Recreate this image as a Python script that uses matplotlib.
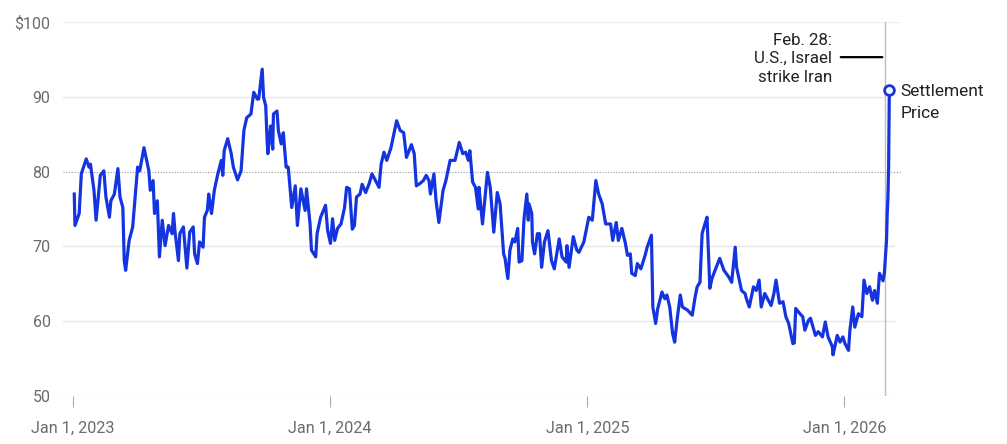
import matplotlib
matplotlib.use("Agg")
import matplotlib.pyplot as plt
import pandas as pd

plt.rcParams['font.family'] = ['Roboto', 'DejaVu Sans']

# prix (dates de cotation, $/baril)
dates = [
    "2023-01-03", "2023-01-04", "2023-01-10", "2023-01-13", "2023-01-20", "2023-01-24", "2023-01-26",
    "2023-01-31", "2023-02-03", "2023-02-09", "2023-02-14", "2023-02-17", "2023-02-22", "2023-02-24",
    "2023-03-01", "2023-03-06", "2023-03-09", "2023-03-13", "2023-03-15", "2023-03-17", "2023-03-22",
    "2023-03-27", "2023-04-03", "2023-04-06", "2023-04-12", "2023-04-19", "2023-04-21", "2023-04-25",
    "2023-04-27", "2023-05-01", "2023-05-04", "2023-05-08", "2023-05-12", "2023-05-17", "2023-05-22",
    "2023-05-24", "2023-05-26", "2023-05-31", "2023-06-02", "2023-06-07", "2023-06-12", "2023-06-16",
    "2023-06-21", "2023-06-23", "2023-06-27", "2023-06-30", "2023-07-05", "2023-07-07", "2023-07-11",
    "2023-07-12", "2023-07-13", "2023-07-17", "2023-07-21", "2023-07-26", "2023-07-31", "2023-08-02",
    "2023-08-04", "2023-08-09", "2023-08-14", "2023-08-17", "2023-08-23", "2023-08-28", "2023-09-01",
    "2023-09-05", "2023-09-11", "2023-09-15", "2023-09-20", "2023-09-22", "2023-09-27", "2023-09-29",
    "2023-10-02", "2023-10-04", "2023-10-05", "2023-10-09", "2023-10-12", "2023-10-13", "2023-10-18",
    "2023-10-20", "2023-10-24", "2023-10-27", "2023-10-31", "2023-11-03", "2023-11-08", "2023-11-13",
    "2023-11-16", "2023-11-21", "2023-11-27", "2023-11-29", "2023-12-04", "2023-12-06", "2023-12-12",
    "2023-12-14", "2023-12-19", "2023-12-26", "2023-12-29",
    "2024-01-02", "2024-01-05", "2024-01-08", "2024-01-12", "2024-01-17", "2024-01-19", "2024-01-22",
    "2024-01-25", "2024-01-29", "2024-02-02", "2024-02-05", "2024-02-08", "2024-02-13", "2024-02-16",
    "2024-02-21", "2024-02-26", "2024-03-01", "2024-03-06", "2024-03-11", "2024-03-14", "2024-03-18",
    "2024-03-22", "2024-03-28", "2024-04-05", "2024-04-10", "2024-04-15", "2024-04-19", "2024-04-26",
    "2024-04-30", "2024-05-03", "2024-05-08", "2024-05-13", "2024-05-17", "2024-05-21", "2024-05-23",
    "2024-05-28", "2024-05-31", "2024-06-04", "2024-06-10", "2024-06-14", "2024-06-20", "2024-06-27",
    "2024-07-03", "2024-07-08", "2024-07-12", "2024-07-16", "2024-07-18", "2024-07-22", "2024-07-26",
    "2024-07-30", "2024-07-31", "2024-08-05", "2024-08-09", "2024-08-12", "2024-08-16", "2024-08-21",
    "2024-08-26", "2024-08-30", "2024-09-04", "2024-09-06", "2024-09-10", "2024-09-13", "2024-09-17",
    "2024-09-20", "2024-09-24", "2024-09-26", "2024-09-30", "2024-10-03", "2024-10-07", "2024-10-09",
    "2024-10-10", "2024-10-14", "2024-10-15", "2024-10-18", "2024-10-22", "2024-10-25", "2024-10-28",
    "2024-11-01", "2024-11-06", "2024-11-11", "2024-11-15", "2024-11-22", "2024-11-26", "2024-12-02",
    "2024-12-03", "2024-12-06", "2024-12-12", "2024-12-17", "2024-12-20", "2024-12-27",
    "2025-01-03", "2025-01-08", "2025-01-13", "2025-01-17", "2025-01-22", "2025-01-27", "2025-02-03",
    "2025-02-06", "2025-02-11", "2025-02-14", "2025-02-19", "2025-02-24", "2025-02-27", "2025-03-03",
    "2025-03-05", "2025-03-10", "2025-03-13", "2025-03-18", "2025-03-24", "2025-03-27", "2025-04-02",
    "2025-04-04", "2025-04-08", "2025-04-11", "2025-04-17", "2025-04-21", "2025-04-24", "2025-04-28",
    "2025-05-02", "2025-05-05", "2025-05-09", "2025-05-13", "2025-05-16", "2025-05-23", "2025-05-30",
    "2025-06-03", "2025-06-06", "2025-06-10", "2025-06-13", "2025-06-17", "2025-06-20", "2025-06-24",
    "2025-06-27", "2025-07-03", "2025-07-08", "2025-07-14", "2025-07-21", "2025-07-25", "2025-07-30",
    "2025-08-01", "2025-08-08", "2025-08-13", "2025-08-15", "2025-08-19", "2025-08-25", "2025-08-29",
    "2025-09-02", "2025-09-05", "2025-09-10", "2025-09-15", "2025-09-19", "2025-09-23", "2025-09-26",
    "2025-10-01", "2025-10-06", "2025-10-10", "2025-10-14", "2025-10-20", "2025-10-22", "2025-10-24",
    "2025-10-30", "2025-11-03", "2025-11-06", "2025-11-11", "2025-11-14", "2025-11-21", "2025-11-25",
    "2025-12-01", "2025-12-05", "2025-12-09", "2025-12-15", "2025-12-16", "2025-12-22", "2025-12-26",
    "2025-12-30",
    "2026-01-02", "2026-01-07", "2026-01-09", "2026-01-13", "2026-01-16", "2026-01-21", "2026-01-26",
    "2026-01-29", "2026-02-02", "2026-02-06", "2026-02-10", "2026-02-13", "2026-02-17", "2026-02-20",
    "2026-02-25", "2026-02-27", "2026-03-02", "2026-03-03", "2026-03-04", "2026-03-05", "2026-03-06",
]
prix = [
    77.0, 72.8, 74.4, 79.7, 81.7, 80.6, 81.0,
    77.5, 73.5, 79.5, 80.1, 76.6, 73.9, 76.1,
    77.0, 80.4, 76.6, 75.2, 68.1, 66.8, 70.8,
    72.6, 80.6, 80.1, 83.2, 80.1, 77.5, 78.8,
    74.4, 76.1, 68.6, 73.5, 70.1, 72.8, 71.7,
    74.4, 72.1, 68.1, 71.7, 72.6, 67.1, 71.9,
    72.6, 69.0, 67.7, 70.6, 69.9, 73.9, 74.8,
    75.8, 77.0, 74.4, 77.5, 79.7, 81.5, 79.5,
    82.8, 84.4, 82.4, 80.6, 78.9, 80.1, 85.5,
    87.2, 87.7, 90.6, 89.7, 89.7, 93.7, 89.9,
    88.8, 84.2, 82.4, 86.1, 83.0, 87.7, 88.1,
    85.5, 83.7, 85.2, 80.6, 80.6, 75.2, 78.1,
    72.8, 77.7, 74.8, 77.7, 73.0, 69.5, 68.6,
    71.7, 73.9, 75.5, 72.1,
    70.4, 73.7, 70.8, 72.4, 73.0, 73.9, 75.2,
    77.9, 77.7, 72.3, 72.8, 76.6, 77.0, 78.3,
    77.2, 78.4, 79.7, 78.8, 77.9, 81.0, 82.6,
    81.5, 83.2, 86.8, 85.5, 85.2, 81.9, 83.6,
    82.4, 78.1, 78.4, 78.8, 79.5, 78.8, 77.0,
    79.7, 76.1, 73.2, 77.5, 78.8, 81.5, 81.5,
    83.9, 82.4, 82.6, 81.5, 82.8, 78.6, 77.9,
    75.0, 77.9, 73.0, 77.0, 79.9, 77.9, 71.9,
    77.2, 75.7, 69.0, 68.4, 65.7, 69.5, 71.0,
    70.6, 72.4, 67.9, 68.1, 73.7, 77.0, 73.5,
    75.7, 74.4, 70.6, 69.0, 71.7, 71.7, 67.2,
    70.6, 72.1, 68.1, 67.0, 71.0, 68.6, 67.9,
    70.1, 67.2, 71.3, 69.5, 69.2, 70.6,
    73.9, 73.5, 78.8, 77.0, 75.7, 73.0, 73.0,
    70.8, 73.2, 70.8, 72.4, 70.4, 68.8, 69.0,
    66.4, 66.1, 67.7, 67.0, 68.8, 69.9, 71.5,
    61.9, 59.7, 61.7, 63.9, 63.0, 63.5, 61.9,
    58.4, 57.2, 60.6, 63.5, 61.9, 61.5, 60.8,
    63.2, 64.6, 65.2, 71.7, 73.0, 73.9, 64.4,
    65.7, 67.2, 68.4, 66.8, 65.9, 65.2, 69.9,
    67.2, 64.1, 63.7, 63.0, 61.9, 64.6, 64.1,
    65.5, 61.9, 63.7, 62.8, 62.1, 63.7, 65.5,
    62.4, 62.6, 60.6, 59.7, 57.0, 57.1, 61.7,
    61.0, 60.6, 58.8, 60.1, 60.4, 58.1, 58.6,
    57.9, 59.9, 57.9, 56.6, 55.5, 58.1, 57.2,
    57.9,
    57.0, 56.1, 58.8, 61.9, 59.2, 61.0, 60.6,
    65.5, 63.7, 64.6, 62.8, 64.1, 62.4, 66.4,
    65.4, 66.5, 70.8, 74.4, 76.5, 80.6, 90.9,
]

y_ticks = [50, 60, 70, 80, 90, 100]
y_labels = ["50", "60", "70", "80", "90", "$100"]
x_ticks = ["2023-01-01", "2024-01-01", "2025-01-01", "2026-01-01"]
x_labels = ["Jan 1, 2023", "Jan 1, 2024", "Jan 1, 2025", "Jan 1, 2026"]
date_evenement = "2026-02-28"

df = pd.DataFrame({"date": pd.to_datetime(dates), "prix": prix})
bleu = "#1434e0"
gris = "#6b6b6b"

fig = plt.figure(figsize=(10.07, 4.44), dpi=100)
ax = fig.add_axes([63 / 1007, 48 / 444, 839 / 1007, 374 / 444])
debut, fin = pd.Timestamp("2022-12-18"), pd.Timestamp("2026-03-24")
ax.set_xlim(debut, fin)
ax.set_ylim(50, 100)

evt = pd.Timestamp(date_evenement)
x_evt = (evt - debut) / (fin - debut)

# grille horizontale, la ligne 80 en pointillés
for v in y_ticks:
    if v == 80:
        ax.axhline(v, color="#9a9a9a", lw=0.8, ls=(0, (1, 1.5)), zorder=1)
    elif v == 100:
        ax.axhline(v, color="#f1f1f1", lw=1.0, zorder=1)
    elif v == 90:
        ax.axhline(v, xmax=x_evt, color="#e6e6e6", lw=1.0, zorder=1)
    else:
        ax.axhline(v, xmax=0.99, color="#e6e6e6", lw=1.0, zorder=1)

ax.axvline(evt, color="#bdbdbd", lw=1.0, zorder=1)

ax.plot(df["date"], df["prix"], color=bleu, lw=2.3, solid_joinstyle="round", zorder=3)
ax.plot(df["date"].iloc[-1], df["prix"].iloc[-1], "o", ms=7, mfc="white", mec=bleu, mew=2, zorder=4)

for s in ax.spines.values():
    s.set_visible(False)

ax.set_yticks(y_ticks)
ax.set_yticklabels(y_labels)
ax.tick_params(axis="y", length=0, pad=9, labelsize=11.5, labelcolor=gris)
ax.set_xticks(pd.to_datetime(x_ticks))
ax.set_xticklabels(x_labels)
ax.tick_params(axis="x", length=8, width=0.8, color="#aaaaaa", pad=10, labelsize=11.7, labelcolor=gris)

# annotation de l'événement
ax.annotate("", xy=(evt, 95.3), xytext=(evt - pd.Timedelta(days=67), 95.3),
            arrowprops=dict(arrowstyle="-", color="black", lw=1.6))
ax.text(evt - pd.Timedelta(days=75), 95.1, "Feb. 28:\nU.S., Israel\nstrike Iran",
        ha="right", va="center", fontsize=12.2, color="#222222", linespacing=1.3)
ax.text(df["date"].iloc[-1] + pd.Timedelta(days=16), df["prix"].iloc[-1] - 1.7, "Settlement\nPrice",
        ha="left", va="center", fontsize=12.5, color="#222222", linespacing=1.55, clip_on=False)

fig.savefig("out.png", dpi=100)
